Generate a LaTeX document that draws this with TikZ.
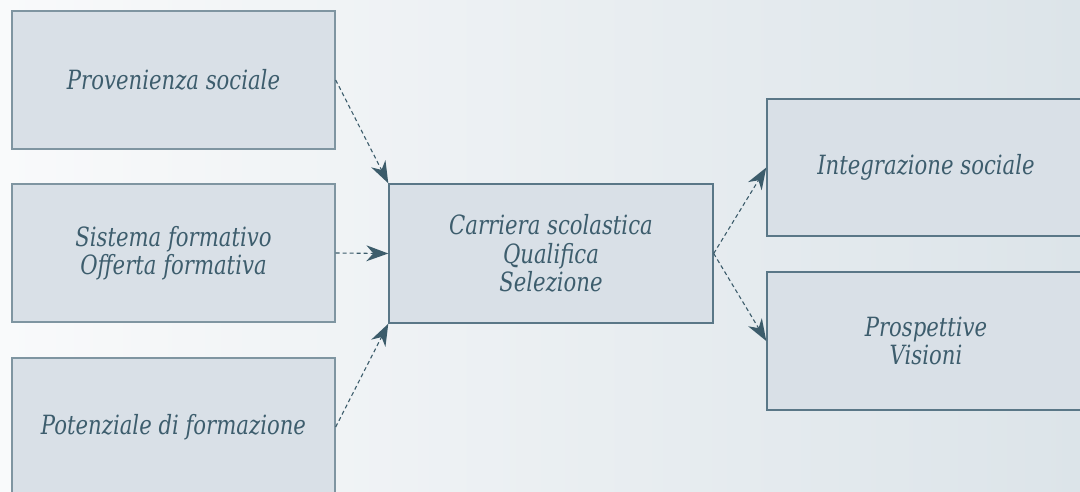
\documentclass[tikz,border=0pt]{standalone}
\usepackage{fontspec}
\setmainfont{DejaVu Serif}[FakeStretch=0.8]
\usetikzlibrary{arrows.meta}
\definecolor{bgL}{HTML}{F9FAFB}
\definecolor{bgR}{HTML}{DCE4E9}
\definecolor{boxfill}{HTML}{D9E0E7}
\definecolor{boxedgeL}{HTML}{7F95A1}
\definecolor{boxedge}{HTML}{5A7787}
\definecolor{txt}{HTML}{3D5D6D}
\definecolor{arr}{HTML}{3C5C6B}
\tikzset{
  box/.style={draw=boxedge, fill=boxfill, line width=1.4pt, minimum width=#1, minimum height=138pt, inner sep=0pt, align=center, text=txt, font=\fontsize{26.5}{28.5}\selectfont\itshape},
  box/.default=323pt,
  conn/.style={draw=arr, line width=1.1pt, dash pattern=on 4pt off 3pt, -{Stealth[length=22pt,width=16pt,inset=7pt,line width=0pt]}}
}
\begin{document}
\begin{tikzpicture}[x=1pt,y=-1pt]
\useasboundingbox (0,0) rectangle (1080,491);
\clip (0,0) rectangle (1080,491);
\shade[left color=bgL, right color=bgR] (0,0) rectangle (1080,491);
\node[box, draw=boxedgeL] (prov) at (173.5,80) {Provenienza sociale};
\node[box, draw=boxedgeL] (sist) at (173.5,253) {Sistema formativo\\Offerta formativa};
\node[box, draw=boxedgeL] (pot) at (173.5,427) {Potenziale di formazione};
\node[box=324pt, minimum height=139pt] (carr) at (551,253.5) {Carriera scolastica\\Qualifica\\Selezione};
\node[box=318pt, minimum height=137pt] (integ) at (926,167.5) {Integrazione sociale};
\node[box=318pt] (prosp) at (926,341) {Prospettive\\Visioni};
\draw[conn] (prov.east) -- (carr.north west);
\draw[conn] (sist.east) -- (carr.west);
\draw[conn] (pot.east) -- (carr.south west);
\draw[conn] (carr.east) -- (integ.west);
\draw[conn] (carr.east) -- (prosp.west);
\end{tikzpicture}
\end{document}
